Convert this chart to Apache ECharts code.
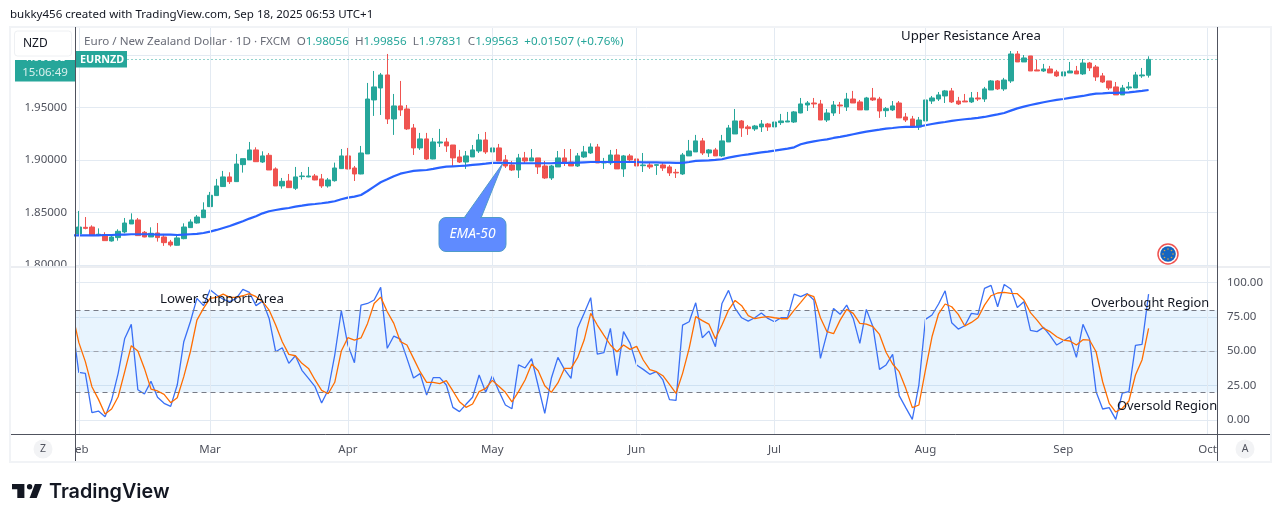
<!DOCTYPE html>
<html>
<head>
<meta charset="utf-8">
<style>html,body{margin:0;padding:0;background:#fff}#c{width:1281px;height:522px}</style>
<script src="https://cdn.jsdelivr.net/npm/echarts@6/dist/echarts.min.js"></script>
</head>
<body>
<div id="c"></div>
<script>
const tickLabels = ['Feb','Mar','Apr','May','Jun','Jul','Aug','Sep','Oct'];
const tickDates = ['2025-02-03','2025-03-03','2025-04-01','2025-05-01','2025-06-02','2025-07-01','2025-08-01','2025-09-01','2025-10-01'];
const priceTicks = [1.80,1.85,1.90,1.95,2.00];
const oscTicks = [0,25,50,75,100];
const lastClose = 1.99563;

const opens = [1.8294,1.8357,1.8360,1.8281,1.8288,1.8227,1.8259,1.8313,1.8389,1.8427,1.8310,1.8265,1.8303,1.8265,1.8217,1.8186,1.8249,1.8354,1.8398,1.8449,
1.8554,1.8659,1.8745,1.8837,1.8792,1.8954,1.8999,1.9094,1.8979,1.9043,1.8913,1.8751,1.8798,1.8729,1.8840,1.8837,1.8846,1.8818,1.8751,1.8801,1.8916,
1.9037,1.8922,1.8865,1.9056,1.9570,1.9684,1.9808,1.9389,1.9513,1.9484,1.9303,1.9113,1.9199,1.9008,1.9160,1.9170,1.9141,1.9027,1.8979,1.9027,1.9084,1.9189,
1.9075,1.9113,1.8999,1.8951,1.8903,1.9018,1.8989,1.9018,1.8941,1.8827,1.8932,1.9018,1.8979,1.8941,1.9027,1.9065,1.9122,1.8970,1.8970,1.9046,1.8913,1.9037,
1.9008,1.8944,1.8951,1.8947,1.8951,1.8932,1.8881,1.8865,1.9037,1.9075,1.9180,1.9065,1.9094,1.9037,1.9170,1.9246,1.9370,1.9313,1.9294,1.9313,1.9341,
1.9313,1.9354,1.9360,1.9360,1.9446,1.9522,1.9541,1.9532,1.9379,1.9446,1.9522,1.9503,1.9579,1.9551,1.9475,1.9589,1.9579,1.9468,1.9475,1.9541,1.9408,1.9389,1.9313,
1.9370,1.9560,1.9579,1.9608,1.9656,1.9560,1.9560,1.9551,1.9589,1.9579,1.9665,1.9751,1.9675,1.9751,2.0008,1.9932,1.9989,1.9856,1.9846,1.9865,1.9837,
1.9799,1.9827,1.9846,1.9818,1.9922,1.9884,1.9799,1.9751,1.9694,1.9618,1.9684,1.9684,1.9799,1.98056];
const closes = [1.8360,1.8347,1.8278,1.8291,1.8230,1.8265,1.8319,1.8398,1.8427,1.8278,1.8265,1.8300,1.8259,1.8211,1.8189,1.8256,1.8360,1.8408,1.8455,1.8522,
1.8662,1.8751,1.8837,1.8792,1.8960,1.9011,1.9094,1.8982,1.9037,1.8903,1.8751,1.8795,1.8735,1.8837,1.8846,1.8846,1.8808,1.8751,1.8808,1.8922,1.9037,
1.8913,1.8865,1.9065,1.9579,1.9694,1.9808,1.9389,1.9513,1.9475,1.9294,1.9113,1.9199,1.9008,1.9170,1.9170,1.9132,1.9018,1.8979,1.9037,1.9094,1.9189,1.9075,
1.9113,1.8989,1.8941,1.8903,1.9018,1.8989,1.9018,1.8932,1.8827,1.8941,1.9018,1.8970,1.8941,1.9037,1.9075,1.9122,1.8970,1.8979,1.9046,1.8913,1.9037,1.8999,
1.8941,1.8951,1.8932,1.8954,1.8922,1.8875,1.8875,1.9046,1.9084,1.9180,1.9065,1.9094,1.9037,1.9180,1.9303,1.9370,1.9303,1.9297,1.9322,1.9341,1.9313,
1.9360,1.9370,1.9370,1.9456,1.9532,1.9541,1.9532,1.9379,1.9446,1.9522,1.9513,1.9579,1.9541,1.9475,1.9589,1.9570,1.9465,1.9487,1.9513,1.9399,1.9379,1.9322,1.9379,
1.9570,1.9589,1.9618,1.9656,1.9551,1.9532,1.9551,1.9589,1.9579,1.9675,1.9751,1.9675,1.9760,2.0008,1.9932,1.9970,1.9846,1.9846,1.9865,1.9827,1.9799,
1.9837,1.9846,1.9818,1.9922,1.9875,1.9789,1.9741,1.9684,1.9618,1.9684,1.9694,1.9808,1.9808,1.99563];
const lows = [1.8284,1.8338,1.8275,1.8275,1.8230,1.8221,1.8230,1.8300,1.8389,1.8275,1.8262,1.8265,1.8221,1.8180,1.8173,1.8183,1.8243,1.8351,1.8392,1.8446,
1.8551,1.8656,1.8741,1.8770,1.8789,1.8878,1.8999,1.8979,1.8970,1.8903,1.8751,1.8725,1.8732,1.8713,1.8811,1.8833,1.8805,1.8732,1.8735,1.8792,1.8913,
1.8909,1.8798,1.8862,1.9056,1.9418,1.9427,1.9341,1.9237,1.9418,1.9284,1.9046,1.9094,1.8999,1.9005,1.9122,1.9075,1.8932,1.8970,1.8913,1.9027,1.9065,1.9056,
1.9008,1.8989,1.8922,1.8894,1.8827,1.8960,1.8989,1.8865,1.8818,1.8808,1.8932,1.8941,1.8941,1.8932,1.9018,1.9056,1.8970,1.8913,1.8951,1.8913,1.8837,1.8970,
1.8922,1.8884,1.8913,1.8856,1.8894,1.8846,1.8827,1.8856,1.9037,1.9075,1.9046,1.9027,1.9037,1.9027,1.9170,1.9246,1.9218,1.9237,1.9275,1.9265,1.9275,
1.9275,1.9332,1.9360,1.9351,1.9443,1.9465,1.9494,1.9379,1.9360,1.9418,1.9437,1.9465,1.9541,1.9475,1.9475,1.9560,1.9399,1.9408,1.9465,1.9399,1.9360,1.9322,1.9284,
1.9370,1.9532,1.9560,1.9541,1.9541,1.9522,1.9551,1.9541,1.9560,1.9551,1.9665,1.9665,1.9656,1.9732,1.9932,1.9932,1.9846,1.9846,1.9837,1.9827,1.9789,
1.9799,1.9827,1.9818,1.9808,1.9846,1.9751,1.9732,1.9665,1.9618,1.9618,1.9665,1.9684,1.9780,1.97831];
const highs = [1.8513,1.8455,1.8376,1.8347,1.8310,1.8284,1.8338,1.8446,1.8490,1.8446,1.8322,1.8357,1.8398,1.8294,1.8237,1.8278,1.8395,1.8433,1.8474,1.8595,
1.8694,1.8818,1.8894,1.8881,1.9056,1.9011,1.9170,1.9119,1.9081,1.9065,1.8928,1.8827,1.8865,1.8932,1.8884,1.8932,1.8865,1.8865,1.8827,1.8973,1.9103,
1.9113,1.8941,1.9132,1.9732,1.9846,1.9827,2.0008,1.9627,1.9751,1.9522,1.9341,1.9256,1.9256,1.9208,1.9294,1.9208,1.9141,1.9094,1.9084,1.9141,1.9246,1.9265,
1.9141,1.9151,1.9046,1.8989,1.9056,1.9075,1.9103,1.9018,1.8989,1.8951,1.9084,1.9103,1.9103,1.9065,1.9132,1.9157,1.9151,1.9018,1.9094,1.9103,1.9046,1.9056,
1.9018,1.9065,1.8979,1.8960,1.8979,1.8951,1.8913,1.9065,1.9189,1.9237,1.9208,1.9103,1.9113,1.9237,1.9332,1.9484,1.9379,1.9332,1.9332,1.9379,1.9351,
1.9389,1.9437,1.9456,1.9465,1.9589,1.9560,1.9589,1.9570,1.9484,1.9560,1.9551,1.9637,1.9656,1.9570,1.9599,1.9684,1.9599,1.9503,1.9560,1.9560,1.9446,1.9418,1.9408,
1.9599,1.9608,1.9646,1.9665,1.9684,1.9599,1.9627,1.9646,1.9646,1.9694,1.9760,1.9760,1.9780,2.0036,2.0036,1.9998,1.9989,1.9951,1.9913,1.9894,1.9856,
1.9903,1.9932,1.9894,1.9960,1.9932,1.9903,1.9827,1.9751,1.9741,1.9713,1.9741,1.9837,1.9875,1.99856];
// the three indicator lists open with the session just off the left edge (Jan 31)
const ema50 = [1.8281,1.8281,1.8281,1.8281,1.8281,1.8284,1.8284,1.8288,1.8288,1.8291,1.8291,1.8291,1.8291,1.8288,1.8288,1.8288,1.8284,1.8288,1.8291,1.8294,1.8303,
1.8316,1.8332,1.8351,1.8370,1.8392,1.8414,1.8440,1.8462,1.8490,1.8510,1.8522,1.8532,1.8541,1.8554,1.8563,1.8573,1.8579,1.8586,1.8595,1.8605,1.8624,
1.8640,1.8649,1.8665,1.8703,1.8745,1.8786,1.8814,1.8843,1.8868,1.8881,1.8894,1.8900,1.8903,1.8913,1.8925,1.8935,1.8938,1.8941,1.8944,1.8951,1.8957,1.8963,
1.8970,1.8970,1.8970,1.8967,1.8967,1.8967,1.8967,1.8967,1.8967,1.8967,1.8970,1.8970,1.8970,1.8973,1.8976,1.8979,1.8979,1.8979,1.8979,1.8979,1.8979,1.8979,
1.8979,1.8976,1.8976,1.8976,1.8973,1.8973,1.8970,1.8970,1.8979,1.8989,1.8992,1.8995,1.8999,1.9005,1.9021,1.9033,1.9043,1.9052,1.9062,1.9071,1.9078,
1.9087,1.9097,1.9106,1.9119,1.9148,1.9164,1.9176,1.9186,1.9195,1.9208,1.9218,1.9230,1.9243,1.9256,1.9268,1.9278,1.9287,1.9297,1.9303,1.9310,1.9313,1.9313,1.9316,
1.9329,1.9341,1.9351,1.9360,1.9370,1.9379,1.9386,1.9392,1.9399,1.9408,1.9421,1.9433,1.9446,1.9468,1.9490,1.9506,1.9522,1.9535,1.9548,1.9560,1.9570,
1.9579,1.9589,1.9599,1.9608,1.9621,1.9630,1.9633,1.9637,1.9637,1.9640,1.9643,1.9649,1.9656,1.9665];
const stochK = [70,34.6,33.9,5.3,6.5,2.4,14.5,33.9,59.3,69.5,22.0,18.9,28.1,16.5,12.1,9.9,25.4,56.9,71.4,88.4,83.1,
94.7,90.8,87.7,86.0,88.4,94.9,92.7,83.1,86.4,73.8,49.6,52.5,41.2,46.7,36.1,30.3,24.2,12.3,21.8,47.2,79.4,
54.5,41.6,83.5,84.7,87.2,96.4,52.1,61.0,58.8,44.8,30.5,33.7,18.2,30.8,30.8,25.4,9.2,6.1,11.4,16.5,32.7,20.1,
32.0,21.1,10.9,8.2,40.0,37.8,44.6,24.7,4.8,30.3,45.5,36.8,30.3,66.6,77.5,88.9,47.9,48.9,66.6,32.2,64.2,55.7,
40.0,36.8,33.2,35.1,29.1,14.8,14.3,69.0,71.4,85.2,59.8,64.6,53.3,84.7,94.2,81.1,74.3,71.9,74.3,77.7,73.8,
71.4,74.3,74.6,91.5,89.6,91.8,87.2,44.8,63.0,81.1,76.8,83.5,73.8,55.7,80.4,67.8,36.8,40.0,47.7,17.7,9.0,0.5,25.4,
73.1,76.3,84.3,93.9,70.7,66.1,68.5,77.5,76.8,95.6,97.8,82.3,98.5,95.2,81.8,86.0,65.1,64.2,67.3,61.3,54.5,
57.4,60.5,45.5,69.5,58.8,20.6,8.0,9.0,0.5,19.6,20.6,54.2,55.0,91.5];
const stochD = [78,56.4,42.4,24.2,15.0,4.4,8.0,16.9,35.1,54.0,50.1,37.5,22.5,21.1,18.6,12.6,16.2,31.5,49.6,72.6,81.1,
88.4,89.1,91.5,89.1,89.1,90.3,91.8,89.6,86.0,79.9,69.0,56.9,47.7,46.7,41.2,37.5,29.1,21.5,19.1,27.4,50.1,
59.8,58.1,59.6,70.2,84.7,89.3,78.7,70.2,56.9,54.5,44.8,35.1,27.4,27.4,26.4,28.6,21.1,13.3,9.2,11.6,20.6,23.0,
28.8,24.5,20.1,13.1,20.6,29.1,40.7,35.8,24.9,20.1,26.9,37.5,37.5,45.3,58.1,77.5,69.0,61.7,54.5,49.6,54.5,51.3,
53.5,43.6,36.6,35.1,32.2,25.9,19.4,33.9,52.1,75.1,72.2,69.7,59.1,69.0,79.9,86.9,83.1,75.8,73.6,74.6,75.1,
74.3,73.6,73.6,79.9,85.5,91.3,89.6,74.3,64.2,62.7,72.6,80.4,77.5,70.2,69.7,67.8,62.2,49.2,40.7,35.1,23.0,9.0,10.9,
36.3,60.5,77.2,84.3,82.3,76.8,68.3,70.9,74.3,83.5,90.3,92.3,92.7,92.0,91.8,87.2,78.0,72.6,66.6,64.2,60.5,
58.1,57.4,54.5,58.4,58.1,49.6,27.8,12.1,5.8,8.5,13.8,32.7,43.6,66.6];

// weekday calendar: Jan 31 2025 (off-screen lead-in) through Oct 2 2025
const categories = [];
for (let d = new Date(Date.UTC(2025,0,31)); categories.length < 175; d.setUTCDate(d.getUTCDate()+1)) {
  if (d.getUTCDay() !== 0 && d.getUTCDay() !== 6) categories.push(d.toISOString().slice(0,10));
}
const candles = ['-'].concat(opens.map((o,i)=>[o,closes[i],lows[i],highs[i]]));

const FONT = '"Noto Sans", sans-serif';
const UP = '#26a69a', DOWN = '#ef5350', GRID = '#e3eaf2', AXIS = '#50535e', TXT = '#131722';
const PRICE_BOTTOM = 1.79886, PRICE_TOP = 2.02648, OSC_BOTTOM = -10.5, OSC_TOP = 111.2;

const xBase = {
  type:'category', data:categories, boundaryGap:true,
  axisLine:{show:false}, axisTick:{show:false}, splitLine:{show:false}
};
const monthLines = (lo,hi)=>tickDates.map(c=>[{coord:[c,lo]},{coord:[c,hi]}]);
const helper = (xi,yi,lo,hi)=>({
  type:'line', xAxisIndex:xi, yAxisIndex:yi, data:[], z:1, silent:true, symbol:'none',
  markLine:{silent:true, symbol:'none', animation:false, precision:5, label:{show:false},
    lineStyle:{color:GRID,width:1,type:'solid'}, data:monthLines(lo,hi)}
});

const txt = (text,x,y,size,color,extra)=>({type:'text',z:60,silent:true,x,y,
  style:Object.assign({text,font:`${size}px ${FONT}`,fill:color,textVerticalAlign:'middle'},extra||{})});
const line = (x1,y1,x2,y2,color,w)=>({type:'line',z:55,silent:true,shape:{x1,y1,x2,y2},style:{stroke:color,lineWidth:w}});

const dots=[];
[[1168,249],[1171.5,250.5],[1173,254],[1171.5,257.5],[1168,259],[1164.5,257.5],[1163,254],[1164.5,250.5]].forEach(p=>{
  dots.push({type:'circle',z:64,silent:true,shape:{cx:p[0],cy:p[1],r:0.8},style:{fill:'#d9a441'}});
});

const chart = echarts.init(document.getElementById('c'),null,{renderer:'canvas'});
chart.setOption({
  animation:false, backgroundColor:'#fff',
  grid:[
    {left:75.5,right:63.5,top:2.3,height:315,containLabel:false},
    {left:75.5,right:63.5,top:248,height:206.4,containLabel:false}
  ],
  dataZoom:[{type:'inside',xAxisIndex:[0,1],startValue:1,endValue:174,filterMode:'none',disabled:true}],
  xAxis:[
    Object.assign({gridIndex:0},xBase,{axisLabel:{show:false}}),
    Object.assign({gridIndex:1},xBase,{axisLabel:{show:true,color:AXIS,fontFamily:FONT,fontSize:11.5,margin:-11,hideOverlap:false,
      interval:(i,v)=>tickDates.includes(v),
      formatter:(v)=>{const k=tickDates.indexOf(v);return k>=0?tickLabels[k]:'';}}})
  ],
  yAxis:[
    {type:'value',gridIndex:0,position:'left',min:1.75,max:2.05,interval:0.05,
     axisLine:{show:false},axisTick:{show:false},
     splitLine:{show:true,showMinLine:false,showMaxLine:false,lineStyle:{color:GRID,width:1}},
     axisLabel:{color:AXIS,fontFamily:FONT,fontSize:11.5,margin:8.5,showMinLabel:false,showMaxLabel:false,
       formatter:v=>priceTicks.some(t=>Math.abs(t-v)<1e-6)?v.toFixed(5):''}},
    {type:'value',gridIndex:1,position:'right',min:-25,max:125,interval:25,
     axisLine:{show:false},axisTick:{show:false},
     splitLine:{show:true,showMinLine:false,showMaxLine:false,lineStyle:{color:GRID,width:1}},
     axisLabel:{color:AXIS,fontFamily:FONT,fontSize:11.5,margin:9.5,showMinLabel:false,showMaxLabel:false,
       formatter:v=>oscTicks.includes(v)?v.toFixed(2):''}}
  ],
  series:[
    helper(0,0,PRICE_BOTTOM,PRICE_TOP), helper(1,1,OSC_BOTTOM,OSC_TOP),
    {type:'line',name:'last',xAxisIndex:0,yAxisIndex:0,data:[],z:2,silent:true,symbol:'none',
     markLine:{silent:true,symbol:'none',animation:false,precision:5,label:{show:false},
       lineStyle:{color:UP,type:[1,3],width:1},data:[{yAxis:lastClose}]}},
    {type:'candlestick',name:'EURNZD',xAxisIndex:0,yAxisIndex:0,data:candles,z:3,barWidth:5,silent:true,
     itemStyle:{color:UP,color0:DOWN,borderColor:UP,borderColor0:DOWN,borderWidth:1}},
    {type:'line',name:'EMA-50',xAxisIndex:0,yAxisIndex:0,data:ema50,z:4,symbol:'none',silent:true,clip:true,
     lineStyle:{color:'#2962ff',width:2.2}},
    {type:'line',name:'band',xAxisIndex:1,yAxisIndex:1,data:[],z:1,silent:true,
     markArea:{silent:true,animation:false,itemStyle:{color:'rgba(33,150,243,0.1)'},data:[[{yAxis:20},{yAxis:80}]]},
     markLine:{silent:true,symbol:'none',animation:false,label:{show:false},
       lineStyle:{color:'#787b86',type:[5,4],width:1},
       data:[{yAxis:80},{yAxis:20},{yAxis:50,lineStyle:{color:'#a0a4ae',type:[5,4],width:1}}]}},
    {type:'line',name:'%K',xAxisIndex:1,yAxisIndex:1,data:stochK,z:4,symbol:'none',silent:true,clip:true,
     lineStyle:{color:'#3a70f5',width:1.3}},
    {type:'line',name:'%D',xAxisIndex:1,yAxisIndex:1,data:stochD,z:5,symbol:'none',silent:true,clip:true,
     lineStyle:{color:'#ff6d00',width:1.3}}
  ],
  graphic:{elements:[
    // outer frame and separators
    {type:'rect',z:50,silent:true,shape:{x:10,y:27,width:1261,height:435},style:{fill:'none',stroke:'#f1f3f6',lineWidth:2}},
    {type:'rect',z:52,silent:true,shape:{x:11,y:266,width:64,height:168},style:{fill:'#fff'}},
    {type:'rect',z:52,silent:true,shape:{x:11,y:435,width:64,height:26},style:{fill:'#fff'}},
    line(11,267,1270,267,'#eceef2',2),
    line(11,434.5,1270,434.5,AXIS,1),
    line(75.5,27,75.5,461,AXIS,1),
    line(1217.5,27,1217.5,461,AXIS,1),
    // header
    txt('bukky456 created with TradingView.com, Sep 18, 2025 06:53 UTC+1',10,14.5,11.55,TXT),
    {type:'text',z:60,silent:true,x:84,y:42,style:{textVerticalAlign:'middle',
      text:'{g|Euro / New Zealand Dollar · 1D · FXCM  O}{t|1.98056}{g|  H}{t|1.99856}{g|  L}{t|1.97831}{g|  C}{t|1.99563}{t|  +0.01507 (+0.76%)}',
      rich:{g:{fill:'#6a6d78',font:`11.65px ${FONT}`},t:{fill:UP,font:`11.65px ${FONT}`}}}},
    // left tags
    {type:'rect',z:56,silent:true,shape:{x:15,y:50,width:60,height:31.5},style:{fill:UP}},
    txt('1.99563',45,58,11.5,'#fff',{textAlign:'center'}),
    txt('15:06:49',45,73,11.5,'#d8f0ed',{textAlign:'center'}),
    {type:'rect',z:61,silent:true,shape:{x:13,y:29,width:62,height:31},style:{fill:'#fff'}},
    {type:'rect',z:62,silent:true,shape:{x:14.5,y:31,width:57,height:25,r:3},style:{fill:'#fff',stroke:'#eef0f3',lineWidth:1}},
    Object.assign(txt('NZD',23,44,12,TXT),{z:64}),
    {type:'rect',z:62,silent:true,shape:{x:76,y:51,width:51,height:16.5},style:{fill:UP}},
    Object.assign(txt('EURNZD',80,59.5,10.8,'#fff',{font:`bold 10.8px ${FONT}`}),{z:64}),
    // annotations
    txt('Upper Resistance Area',901,36.5,13.2,TXT),
    txt('Lower Support Area',160,299.5,13.3,TXT),
    txt('Overbought Region',1091,303.5,12.8,TXT),
    txt('Oversold Region',1117,406.5,12.9,TXT),
    // EMA callout
    {type:'polygon',z:62,silent:true,shape:{points:[[464,218],[503,163],[481,218]]},style:{fill:'#5f8bff',stroke:'#4f9bc9',lineWidth:1}},
    {type:'rect',z:63,silent:true,shape:{x:439,y:217.5,width:67,height:34,r:7},style:{fill:'#5f8bff',stroke:'#4f9bc9',lineWidth:1}},
    {type:'rect',z:64,silent:true,shape:{x:466,y:216,width:14,height:3},style:{fill:'#5f8bff'}},
    Object.assign(txt('EMA-50',472.5,234.5,13.8,'#fff',{textAlign:'center',font:`italic 13.8px ${FONT}`}),{z:65}),
    // currency badge
    {type:'circle',z:62,silent:true,shape:{cx:1168,cy:254,r:10},style:{fill:'#fff',stroke:DOWN,lineWidth:1.5}},
    {type:'circle',z:63,silent:true,shape:{cx:1168,cy:254,r:7.8},style:{fill:'#1565c0'}},
    ...dots,
    // buttons
    {type:'circle',z:62,silent:true,shape:{cx:43,cy:449,r:9.5},style:{fill:'#f2f3f5'}},
    Object.assign(txt('Z',43,449,10.5,AXIS,{textAlign:'center'}),{z:64}),
    {type:'circle',z:62,silent:true,shape:{cx:1245,cy:449,r:9.5},style:{fill:'#f2f3f5'}},
    Object.assign(txt('A',1245,449,10.5,AXIS,{textAlign:'center'}),{z:64}),
    // brand
    {type:'polygon',z:62,silent:true,shape:{points:[[12,484],[24.4,484],[24.4,498],[17.3,498],[17.3,489.3],[12,489.3]]},style:{fill:'#131722'}},
    {type:'polygon',z:62,silent:true,shape:{points:[[36.7,498],[29.6,498],[34.9,484],[42,484]]},style:{fill:'#131722'}},
    {type:'circle',z:62,silent:true,shape:{cx:29.6,cy:486.7,r:2.7},style:{fill:'#131722'}},
    {type:'text',z:62,silent:true,x:49,y:492.5,style:{text:'TradingView',font:`600 19.8px Inter, ${FONT}`,fill:'#131722',textVerticalAlign:'middle'}}
  ]}
});
</script>
</body>
</html>
